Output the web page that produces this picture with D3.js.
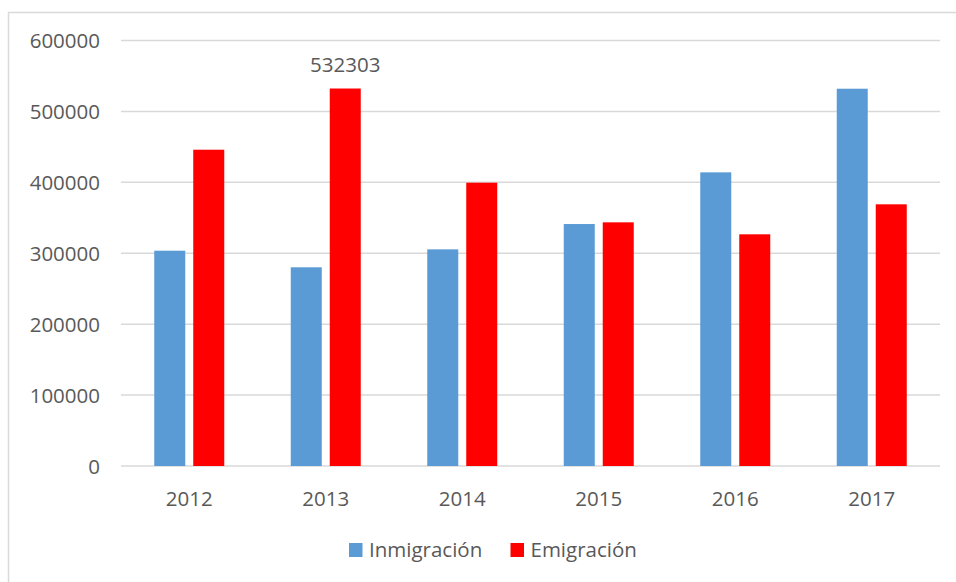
<!DOCTYPE html>
<html>
<head>
<meta charset="utf-8">
<script src="https://cdn.jsdelivr.net/npm/d3@7"></script>
<style>
  body { margin: 0; background: #fff; }
  text { font-family: "Open Sans", sans-serif; fill: #595959; }
</style>
</head>
<body>
<div id="graph"></div>
<script>
// chart data
var years = ["2012", "2013", "2014", "2015", "2016", "2017"];
var inmigracion = [303600, 280200, 305500, 341200, 414100, 532000];
var emigracion = [446000, 532303, 399500, 343600, 326700, 369000];
var seriesNames = ["Inmigración", "Emigración"];
var seriesColors = ["#5b9bd5", "#ff0000"];
var yTicks = [0, 100000, 200000, 300000, 400000, 500000, 600000];

var width = 956, height = 582;
// plot box (window.top is read-only, so use other names)
var plotLeft = 121, plotRight = 940, plotTop = 40.5, plotBottom = 466;

var svg = d3.select("#graph").append("svg")
    .attr("width", width)
    .attr("height", height);

// chart frame (cut off at right and bottom)
svg.append("path")
    .attr("d", "M8.5," + height + "V12.5H" + width)
    .attr("fill", "none")
    .attr("stroke", "#d9d9d9")
    .attr("stroke-width", 1.5);

var x = d3.scaleBand().domain(years).range([plotLeft, plotRight]);
var x1 = d3.scaleBand().domain([0, 1]).range([0, 70]).paddingInner(0.205);
var y = d3.scaleLinear().domain([0, 600000]).range([plotBottom, plotTop]);

// gridlines + y labels
svg.append("g")
    .selectAll("line")
    .data(yTicks)
    .enter().append("line")
    .attr("x1", plotLeft).attr("x2", plotRight)
    .attr("y1", function(d) { return y(d); })
    .attr("y2", function(d) { return y(d); })
    .attr("stroke", "#d9d9d9")
    .attr("stroke-width", 1.5);

svg.append("g")
    .selectAll("text")
    .data(yTicks)
    .enter().append("text")
    .attr("x", 100)
    .attr("y", function(d) { return y(d) + 7.5; })
    .attr("text-anchor", "end")
    .attr("font-size", "20.5px")
    .text(function(d) { return d; });

// bars
var rows = years.map(function(yr, i) {
    return { year: yr, vals: [inmigracion[i], emigracion[i]] };
});

var groups = svg.append("g")
    .selectAll("g")
    .data(rows)
    .enter().append("g")
    .attr("transform", function(d) {
        return "translate(" + (x(d.year) + x.bandwidth() / 2 - 35) + ",0)";
    });

groups.selectAll("rect")
    .data(function(d) { return d.vals; })
    .enter().append("rect")
    .attr("x", function(d, i) { return x1(i); })
    .attr("width", x1.bandwidth())
    .attr("y", function(d) { return y(d); })
    .attr("height", function(d) { return plotBottom - y(d); })
    .attr("fill", function(d, i) { return seriesColors[i]; });

// value label on 2013 emigración
svg.append("text")
    .attr("x", x("2013") + x.bandwidth() / 2 - 35 + x1(1) + x1.bandwidth() / 2)
    .attr("y", 72)
    .attr("text-anchor", "middle")
    .attr("font-size", "20.5px")
    .text(emigracion[1]);

// x labels
svg.append("g")
    .selectAll("text")
    .data(years)
    .enter().append("text")
    .attr("x", function(d) { return x(d) + x.bandwidth() / 2; })
    .attr("y", 506)
    .attr("text-anchor", "middle")
    .attr("font-size", "20.5px")
    .text(function(d) { return d; });

// legend
var legendX = [349, 510.5];
var legend = svg.append("g")
    .selectAll("g")
    .data(seriesNames)
    .enter().append("g")
    .attr("transform", function(d, i) { return "translate(" + legendX[i] + ",543)"; });

legend.append("rect")
    .attr("width", 13.5).attr("height", 14)
    .attr("fill", function(d, i) { return seriesColors[i]; });

legend.append("text")
    .attr("x", 20)
    .attr("y", 14)
    .attr("font-size", "20.5px")
    .text(function(d) { return d; });
</script>
</body>
</html>
